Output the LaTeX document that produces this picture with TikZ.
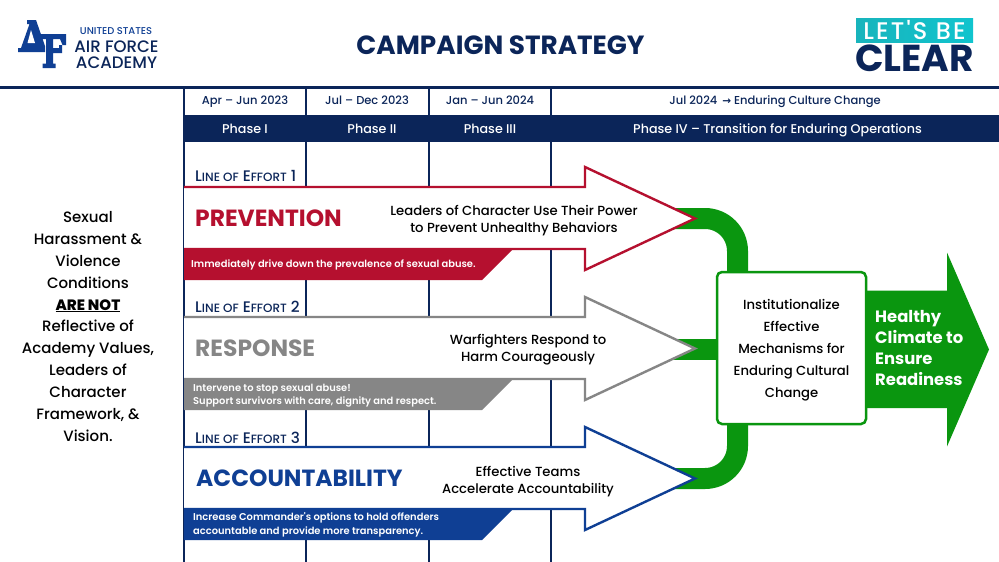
\documentclass[tikz,border=0pt]{standalone}
\usepackage{fontspec}
\setmainfont{Poppins}
\newfontfamily\medfont{Poppins Medium}
\newfontfamily\semifont{Poppins SemiBold}
\newfontfamily\symfont{DejaVu Sans Bold}
\newfontfamily\spacedfont[LetterSpace=9]{Poppins Medium}
\usetikzlibrary{calc,positioning}
\definecolor{navy}{HTML}{0B2559}
\definecolor{afblue}{HTML}{0F3F94}
\definecolor{redline}{HTML}{B5102F}
\definecolor{greyline}{HTML}{868686}
\definecolor{greenband}{HTML}{0A960F}
\definecolor{tealleft}{HTML}{18B4BC}
\definecolor{tealright}{HTML}{10C4CE}
\tikzset{
  gridline/.style={navy,line width=2pt},
  datelabel/.style={font=\medfont\fontsize{11.5}{14}\selectfont,text=navy,text height=9pt,text depth=3pt},
  phaselabel/.style={font=\medfont\fontsize{12.7}{15}\selectfont,text=white,text height=9pt,text depth=3pt},
  loelabel/.style={font=\medfont\fontsize{15.3}{16}\selectfont,text=navy,anchor=west,inner sep=0pt},
  headline/.style={font=\bfseries\fontsize{23.4}{26}\selectfont,anchor=west,inner sep=0pt},
  bodytext/.style={font=\medfont\fontsize{13.2}{17}\selectfont,align=center,text=black,inner sep=0pt},
  bannertext/.style={font=\semifont\fontsize{9.9}{13.3}\selectfont,text=white,align=left,anchor=west,inner sep=0pt},
  band/.style={greenband,line width=21pt,rounded corners=32.5pt}
}
\newcommand*{\loe}[1]{L{\fontsize{12}{16}\selectfont INE OF} E{\fontsize{12}{16}\selectfont FFORT} #1}
\begin{document}
\begin{tikzpicture}[x=1pt,y=-1pt]
\useasboundingbox (0,0) rectangle (999,562);
\fill[white] (0,0) rectangle (999,562);
% header
\draw[navy,line width=3pt] (0,87.5) -- (999,87.5);
\node[font=\bfseries\fontsize{26.3}{28}\selectfont,text=navy] (title) at (500.5,45) {CAMPAIGN STRATEGY};
% academy logo
\fill[afblue] (27,20) -- (36,20) -- (45,46) -- (45,52) -- (18,52) -- (18,48) -- (21,48) -- (29.5,24) -- (27,24) -- cycle;
\fill[white] (31,30) -- (27.5,43) -- (35,43) -- cycle;
\fill[afblue] (35,34) -- (66,34) -- (66,45) -- (62.5,45) -- (60,39) -- (53,39) -- (53,48) -- (59,48) -- (59,45) -- (62,45) -- (62,53) -- (53,53) -- (53,63.5) -- (55.5,63.5) -- (55.5,68) -- (42.5,68) -- (42.5,63.5) -- (46,63.5) -- (46,39) -- (35,39) -- cycle;
\node[font=\medfont\fontsize{9.9}{10}\selectfont,text=afblue] (usa) at (116,31) {UNITED STATES};
\node[font=\medfont\fontsize{16.6}{15.5}\selectfont,text=navy,align=center] (afa) at (116.5,54.5) {AIR FORCE\\ACADEMY};
% clear logo
\fill[left color=tealleft,right color=tealright] (856,18) rectangle (973,42.5);
\node[font=\spacedfont\fontsize{24}{24}\selectfont,text=white,inner sep=0pt] (lets) at (914.5,30) {LET'S BE};
\node[font=\bfseries\fontsize{37.5}{38}\selectfont,text=navy,inner sep=0pt] (clear) at (914.5,58.5) {CLEAR};
% timeline grid
\foreach \x in {306,429,551}
  \draw[gridline] (\x,88) -- (\x,562);
\draw[gridline] (184,88) -- (184,562);
\fill[navy] (183,115) rectangle (999,142);
\node[datelabel] (d1) at (245,101.5) {Apr – Jun 2023};
\node[datelabel] (d2) at (367,101.5) {Jul – Dec 2023};
\node[datelabel] (d3) at (490,101.5) {Jan – Jun 2024};
\node[datelabel] (d4) at (775,101.5) {Jul 2024 \,{\symfont\fontsize{10.5}{10}\selectfont→} Enduring Culture Change};
\node[phaselabel] (p1) at (245,130) {Phase I};
\node[phaselabel] (p2) at (372,130) {Phase II};
\node[phaselabel] (p3) at (490,130) {Phase III};
\node[phaselabel] (p4) at (777.5,130) {Phase IV – Transition for Enduring Operations};
% green bands
\draw[band] (670,218.5) -| (737.5,290);
\draw[band] (670,349) -- (730,349);
\draw[band] (670,478.5) -| (737.5,410);
% lines of effort
\foreach \top/\col in {187/redline,317/greyline,447/afblue}{
  \draw[\col,line width=2.4pt,fill=white] (184,\top) -- (585,\top) -- (585,\top-20) -- (695,\top+31.5) -- (585,\top+83) -- (585,\top+62) -- (184,\top+62);
  \fill[\col] (184,\top+62) -- (513,\top+62) -- (482,\top+93) -- (184,\top+93) -- cycle;
}
\node[loelabel] (loea) at (195,176) {\loe{1}};
\node[loelabel] (loeb) at (195,307) {\loe{2}};
\node[loelabel] (loec) at (195,438) {\loe{3}};
\node[headline,text=redline] (prev) at (195,218.5) {PREVENTION};
\node[headline,text=greyline] (resp) at (195,348.5) {RESPONSE};
\node[headline,text=afblue] (acct) at (196,478) {ACCOUNTABILITY};
\node[bodytext] (ta) at (514,221) {Leaders of Character Use Their Power\\to Prevent Unhealthy Behaviors};
\node[bodytext] (tb) at (528,350) {Warfighters Respond to\\Harm Courageously};
\node[bodytext] (tc) at (528,482) {Effective Teams\\Accelerate Accountability};
\node[bannertext] (ba) at (191,264.5) {Immediately drive down the prevalence of sexual abuse.};
\node[bannertext] (bb) at (193,396) {Intervene to stop sexual abuse!\\Support survivors with care, dignity and respect.};
\node[bannertext] (bc) at (193,525) {Increase Commander's options to hold offenders\\accountable and provide more transparency.};
% outcome
\fill[greenband] (866,290.5) -- (947,290.5) -- (947,252.5) -- (989,349.5) -- (947,446.5) -- (947,408) -- (866,408) -- cycle;
\node[draw=greenband,line width=2.5pt,fill=white,rounded corners=5pt,minimum width=149pt,minimum height=152pt,inner sep=0pt] (inst) at (791.5,348) {};
\node[font=\medfont\fontsize{13.2}{22}\selectfont,align=center,inner sep=0pt] (insttext) at (791.5,350) {Institutionalize\\Effective\\Mechanisms for\\Enduring Cultural\\Change};
\node[font=\bfseries\fontsize{16.4}{20.7}\selectfont,text=white,align=left,anchor=west,inner sep=0pt] (goal) at (875,348) {Healthy\\Climate to\\Ensure\\Readiness};
% left statement
\node[font=\medfont\fontsize{15}{21.9}\selectfont,align=center,text=black,inner sep=0pt] (cond) at (88,326.5) {Sexual\\Harassment \&\\Violence\\Conditions\\{\bfseries\underline{ARE NOT}}\\Reflective of\\Academy Values,\\Leaders of\\Character\\Framework, \&\\Vision.};
\end{tikzpicture}
\end{document}
